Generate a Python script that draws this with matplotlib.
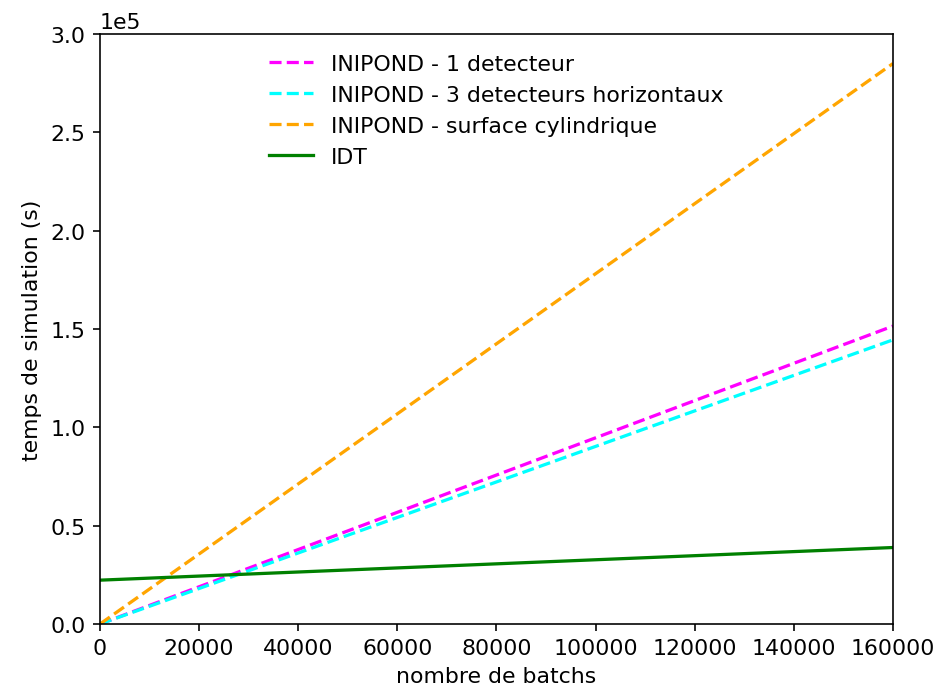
import numpy as np
import matplotlib
matplotlib.use("Agg")
import matplotlib.pyplot as plt

# batches vs simulation time (s)
batches = [0, 160000]
t_1det = [0, 151500]
t_3det = [0, 144500]
t_cyl = [0, 285000]
t_idt = [22300, 38900]

LAB = ["INIPOND - 1 detecteur", "INIPOND - 3 detecteurs horizontaux",
       "INIPOND - surface cylindrique", "IDT"]

plt.rcParams["font.size"] = 10.8
fig = plt.figure(figsize=(6.4, 4.742), dpi=146.56)
ax = fig.add_axes([0.1066, 0.1007, 0.8454, 0.8489])
ax.plot(batches, t_1det, "--", color="magenta", lw=1.6, label=LAB[0])
ax.plot(batches, t_3det, "--", color="cyan", lw=1.6, label=LAB[1])
ax.plot(batches, t_cyl, "--", color="orange", lw=1.6, label=LAB[2])
ax.plot(batches, t_idt, "-", color="green", lw=1.6, label=LAB[3])
ax.set_xlim(0, 160000); ax.set_ylim(0, 300000)
ax.set_xticks(np.arange(0, 160001, 20000))
ax.ticklabel_format(axis="y", style="sci", scilimits=(0, 0))
ax.set_xlabel("nombre de batchs"); ax.set_ylabel("temps de simulation (s)")
ax.legend(loc="upper center", frameon=False)
fig.savefig("out.png")
